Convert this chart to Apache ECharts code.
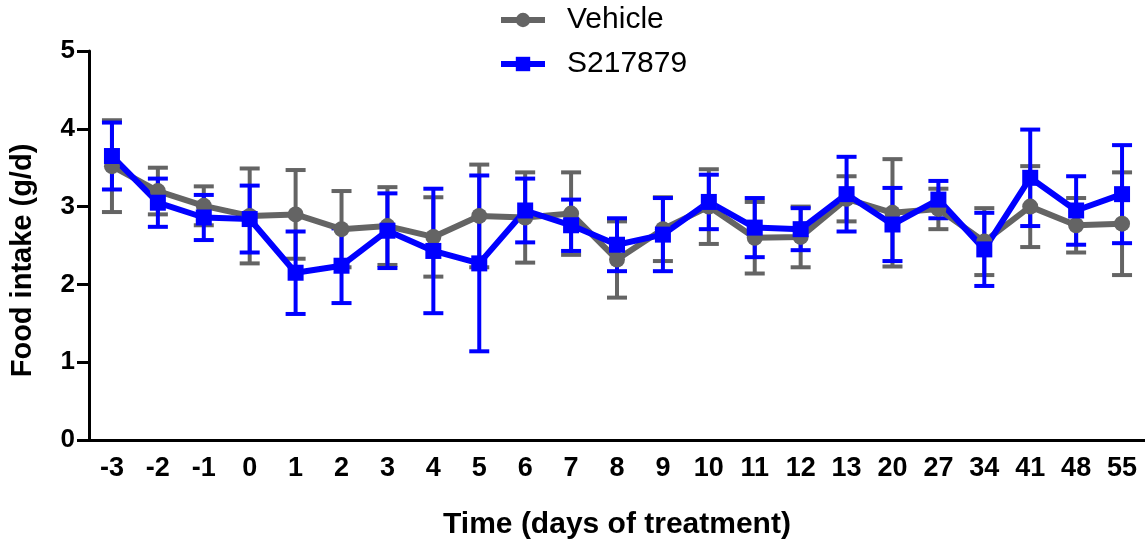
<!DOCTYPE html>
<html>
<head>
<meta charset="utf-8">
<script src="https://cdn.jsdelivr.net/npm/echarts@6/dist/echarts.min.js"></script>
<style>
  html, body { margin: 0; padding: 0; background: #fff; }
  #main { width: 1145px; height: 547px; }
</style>
</head>
<body>
<div id="main"></div>
<script>
// days of treatment
var days = ['-3', '-2', '-1', '0', '1', '2', '3', '4', '5', '6', '7', '8', '9', '10', '11', '12', '13', '20', '27', '34', '41', '48', '55'];

// food intake (g/d), mean and error
var vehicleMean = [3.52, 3.20, 3.01, 2.88, 2.90, 2.71, 2.75, 2.61, 2.88, 2.86, 2.91, 2.32, 2.71, 3.00, 2.60, 2.61, 3.10, 2.92, 2.97, 2.55, 3.00, 2.76, 2.78];
var vehicleErr = [0.59, 0.30, 0.25, 0.61, 0.57, 0.49, 0.50, 0.51, 0.66, 0.58, 0.53, 0.49, 0.41, 0.48, 0.46, 0.39, 0.29, 0.69, 0.26, 0.43, 0.52, 0.35, 0.66];

var drugMean = [3.65, 3.05, 2.86, 2.84, 2.15, 2.24, 2.69, 2.43, 2.27, 2.95, 2.76, 2.51, 2.64, 3.06, 2.73, 2.71, 3.16, 2.77, 3.09, 2.45, 3.37, 2.95, 3.16];
var drugErr = [0.43, 0.31, 0.29, 0.43, 0.53, 0.48, 0.48, 0.80, 1.13, 0.41, 0.33, 0.34, 0.47, 0.35, 0.38, 0.27, 0.48, 0.47, 0.24, 0.47, 0.62, 0.44, 0.63];

var yTicks = [0, 1, 2, 3, 4, 5];

var GREY = '#646464';
var BLUE = '#0000ff';
var FONT = 'Liberation Sans, Arial, sans-serif';

function errData(mean, err) {
  return mean.map(function (m, i) { return [i, m - err[i], m + err[i]]; });
}

// error bars with caps
function errSeries(name, mean, err, color) {
  return {
    name: name + ' err',
    type: 'custom',
    data: errData(mean, err),
    renderItem: function (params, api) {
      var lo = api.coord([api.value(0), api.value(1)]);
      var hi = api.coord([api.value(0), api.value(2)]);
      var w = 10;
      var st = { stroke: color, lineWidth: 4 };
      return {
        type: 'group',
        children: [
          { type: 'line', shape: { x1: hi[0], y1: hi[1], x2: lo[0], y2: lo[1] }, style: st },
          { type: 'line', shape: { x1: hi[0] - w, y1: hi[1], x2: hi[0] + w, y2: hi[1] }, style: st },
          { type: 'line', shape: { x1: lo[0] - w, y1: lo[1], x2: lo[0] + w, y2: lo[1] }, style: st }
        ]
      };
    },
    silent: true
  };
}

var myChart = echarts.init(document.getElementById('main'));
myChart.setOption({
  animation: false,
  textStyle: { fontFamily: FONT },
  legend: {
    data: ['Vehicle', 'S217879'],
    orient: 'vertical',
    left: 493,
    top: 0,
    itemWidth: 44,
    itemHeight: 18,
    itemGap: 14,
    lineStyle: { width: 6 },
    textStyle: { fontSize: 30, color: '#000', fontFamily: FONT, padding: [0, 0, 0, 17] }
  },
  grid: {
    left: 85,
    right: 0,
    top: 51,
    bottom: 107,
    containLabel: false
  },
  xAxis: {
    type: 'category',
    data: days,
    boundaryGap: true,
    name: 'Time (days of treatment)',
    nameLocation: 'middle',
    nameGap: 70,
    nameTextStyle: { fontSize: 30, fontWeight: 'bold', color: '#000' },
    axisLine: { lineStyle: { color: '#000', width: 3 } },
    axisTick: { alignWithLabel: true, length: 10, lineStyle: { color: '#000', width: 3 } },
    axisLabel: { fontSize: 27, fontWeight: 'bold', color: '#000', margin: 15, interval: 0 }
  },
  yAxis: {
    type: 'value',
    min: yTicks[0],
    max: yTicks[yTicks.length - 1],
    interval: 1,
    name: 'Food intake (g/d)',
    nameLocation: 'middle',
    nameGap: 52,
    nameTextStyle: { fontSize: 29, fontWeight: 'bold', color: '#000', padding: [0, 30, 0, 0] },
    splitLine: { show: false },
    axisLine: { show: true, lineStyle: { color: '#000', width: 3 } },
    axisTick: { show: true, length: 12, lineStyle: { color: '#000', width: 3 } },
    axisLabel: { fontSize: 26, fontWeight: 'bold', color: '#000', margin: 14 }
  },
  series: [
    errSeries('Vehicle', vehicleMean, vehicleErr, GREY),
    {
      name: 'Vehicle',
      type: 'line',
      data: vehicleMean,
      symbol: 'circle',
      symbolSize: 16,
      lineStyle: { color: GREY, width: 6 },
      itemStyle: { color: GREY }
    },
    errSeries('S217879', drugMean, drugErr, BLUE),
    {
      name: 'S217879',
      type: 'line',
      data: drugMean,
      symbol: 'rect',
      symbolSize: 16,
      lineStyle: { color: BLUE, width: 6 },
      itemStyle: { color: BLUE }
    }
  ]
});
</script>
</body>
</html>
